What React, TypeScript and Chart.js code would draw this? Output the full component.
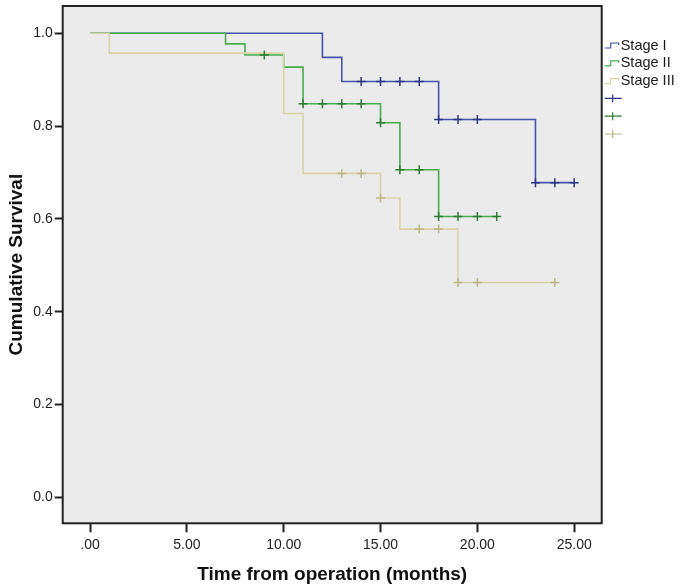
import React, { useEffect, useRef } from "react";
import { Chart, registerables } from "chart.js";

Chart.register(...registerables);

// ---- Data ----
const stageLabels = ["Stage I", "Stage II", "Stage III"];

// Kaplan-Meier step points (time in months, cumulative survival after that time)
const stage1Times = [0, 12, 13, 18, 23, 25];
const stage1Surv = [1.0, 0.948, 0.896, 0.814, 0.678, 0.678];
const stage1CensorTimes = [14, 15, 16, 17, 18, 19, 20, 23, 24, 25];
const stage1CensorSurv = [0.896, 0.896, 0.896, 0.896, 0.814, 0.814, 0.814, 0.678, 0.678, 0.678];

const stage2Times = [0, 7, 8, 10, 11, 15, 16, 18, 21];
const stage2Surv = [1.0, 0.977, 0.953, 0.927, 0.848, 0.807, 0.706, 0.605, 0.605];
const stage2CensorTimes = [9, 11, 12, 13, 14, 15, 16, 17, 18, 19, 20, 21];
const stage2CensorSurv = [0.953, 0.848, 0.848, 0.848, 0.848, 0.807, 0.706, 0.706, 0.605, 0.605, 0.605, 0.605];

const stage3Times = [0, 1, 10, 11, 15, 16, 19, 24];
const stage3Surv = [1.0, 0.957, 0.827, 0.698, 0.645, 0.578, 0.463, 0.463];
const stage3CensorTimes = [13, 14, 15, 17, 18, 19, 20, 24];
const stage3CensorSurv = [0.698, 0.698, 0.645, 0.578, 0.578, 0.463, 0.463, 0.463];

const xTickValues = [0, 5, 10, 15, 20, 25];
const xTickLabels = [".00", "5.00", "10.00", "15.00", "20.00", "25.00"];
const yTickValues = [0, 0.2, 0.4, 0.6, 0.8, 1.0];
const yTickLabels = ["0.0", "0.2", "0.4", "0.6", "0.8", "1.0"];

const xTitle = "Time from operation (months)";
const yTitle = "Cumulative Survival";

// ---- Styles ----
const lineColors = ["#4352aa", "#45ad4c", "#d8d3a4"];
const crossColors = ["#2c3585", "#2d7a32", "#bdb685"];
const FONT = "'Liberation Sans', Arial, sans-serif";

const pts = (xs: number[], ys: number[]) => xs.map((x, i) => ({ x, y: ys[i] }));

const bgFramePlugin = {
  id: "bgFrame",
  beforeDatasetsDraw(chart: any) {
    const { ctx, chartArea: a } = chart;
    ctx.save();
    ctx.fillStyle = "#ebebeb";
    ctx.fillRect(a.left, a.top, a.right - a.left, a.bottom - a.top);
    ctx.restore();
  },
  afterDraw(chart: any) {
    const { ctx, chartArea: a } = chart;
    ctx.save();
    ctx.strokeStyle = "#222222";
    ctx.lineWidth = 2;
    ctx.strokeRect(a.left, a.top, a.right - a.left, a.bottom - a.top);

    // legend
    const x0 = a.right + 3;
    const rowH = 17.8;
    const y0 = 45;
    ctx.font = `14.5px ${FONT}`;
    ctx.textBaseline = "middle";
    ctx.textAlign = "left";
    ctx.lineWidth = 1.2;
    stageLabels.forEach((lab, i) => {
      const y = y0 + i * rowH;
      ctx.strokeStyle = lineColors[i];
      ctx.beginPath();
      ctx.moveTo(x0, y + 3);
      ctx.lineTo(x0 + 6, y + 3);
      ctx.lineTo(x0 + 6, y - 2);
      ctx.lineTo(x0 + 14, y - 2);
      ctx.lineTo(x0 + 14, y);
      ctx.stroke();
      ctx.fillStyle = "#1a1a1a";
      ctx.fillText(lab, x0 + 16, y + 0.5);
    });
    stageLabels.forEach((_, i) => {
      const y = y0 + (i + 3) * rowH;
      ctx.strokeStyle = crossColors[i];
      ctx.beginPath();
      ctx.moveTo(x0, y);
      ctx.lineTo(x0 + 17, y);
      ctx.moveTo(x0 + 8, y - 4);
      ctx.lineTo(x0 + 8, y + 4);
      ctx.stroke();
    });
    ctx.restore();
  },
};

export default function App() {
  const ref = useRef<HTMLCanvasElement | null>(null);
  useEffect(() => {
    if (!ref.current) return;
    const lineSets = [
      pts(stage3Times, stage3Surv),
      pts(stage2Times, stage2Surv),
      pts(stage1Times, stage1Surv),
    ];
    const censorSets = [
      pts(stage3CensorTimes, stage3CensorSurv),
      pts(stage2CensorTimes, stage2CensorSurv),
      pts(stage1CensorTimes, stage1CensorSurv),
    ];
    const idx = [2, 1, 0];
    const datasets: any[] = [];
    censorSets.forEach((d, k) => {
      datasets.push({
        label: stageLabels[idx[k]] + " censored",
        data: d,
        showLine: false,
        pointStyle: "cross",
        pointRadius: 4.5,
        pointBorderWidth: 1.5,
        pointBorderColor: crossColors[idx[k]],
        pointBackgroundColor: crossColors[idx[k]],
      });
    });
    lineSets.forEach((d, k) => {
      datasets.push({
        label: stageLabels[idx[k]],
        data: d,
        showLine: true,
        stepped: "before",
        borderColor: lineColors[idx[k]],
        borderWidth: 1.6,
        pointRadius: 0,
        fill: false,
      });
    });

    const chart = new Chart(ref.current, {
      type: "scatter",
      data: { datasets },
      plugins: [bgFramePlugin],
      options: {
        animation: false,
        responsive: false,
        layout: { padding: { left: 0, right: 83.3, top: 2.5, bottom: 0 } },
        plugins: { legend: { display: false }, tooltip: { enabled: false } },
        scales: {
          x: {
            type: "linear",
            min: -1.41,
            max: 26.42,
            border: { display: false },
            grid: {
              drawOnChartArea: false,
              drawTicks: true,
              tickLength: 9,
              tickWidth: 2,
              tickColor: "#222222",
            },
            afterBuildTicks: (s: any) => {
              s.ticks = xTickValues.map((v) => ({ value: v }));
            },
            afterFit: (s: any) => {
              s.height = 587 - 523.3;
              s.paddingLeft = 0;
              s.paddingRight = 0;
            },
            ticks: {
              padding: 4,
              autoSkip: false,
              maxRotation: 0,
              color: "#222222",
              font: { family: FONT, size: 14 },
              callback: (v: any) => {
                const i = xTickValues.indexOf(Number(v));
                return i >= 0 ? xTickLabels[i] : "";
              },
            },
            title: {
              display: true,
              text: xTitle,
              color: "#111111",
              font: { family: FONT, size: 19, weight: "bold" },
              padding: { top: 0, bottom: 1 },
            },
          },
          y: {
            type: "linear",
            min: -0.0558,
            max: 1.0586,
            border: { display: false },
            grid: {
              drawOnChartArea: false,
              drawTicks: true,
              tickLength: 8,
              tickWidth: 2,
              tickColor: "#222222",
            },
            afterBuildTicks: (s: any) => {
              s.ticks = yTickValues.map((v) => ({ value: v }));
            },
            afterFit: (s: any) => {
              s.width = 62.7;
              s.paddingTop = 0;
              s.paddingBottom = 0;
            },
            ticks: {
              padding: 2,
              autoSkip: false,
              color: "#222222",
              font: { family: FONT, size: 14 },
              callback: (v: any) => {
                const i = yTickValues.findIndex((t) => Math.abs(t - Number(v)) < 1e-6);
                return i >= 0 ? yTickLabels[i] : "";
              },
            },
            title: {
              display: true,
              text: yTitle,
              color: "#111111",
              font: { family: FONT, size: 19, weight: "bold" },
              padding: { top: 5, bottom: 0 },
            },
          },
        },
      } as any,
    });
    return () => chart.destroy();
  }, []);

  return (
    <div style={{ position: "fixed", left: 0, top: 0, width: 685, height: 587, background: "#ffffff" }}>
      <canvas ref={ref} width={685} height={587} style={{ display: "block" }} />
    </div>
  );
}
